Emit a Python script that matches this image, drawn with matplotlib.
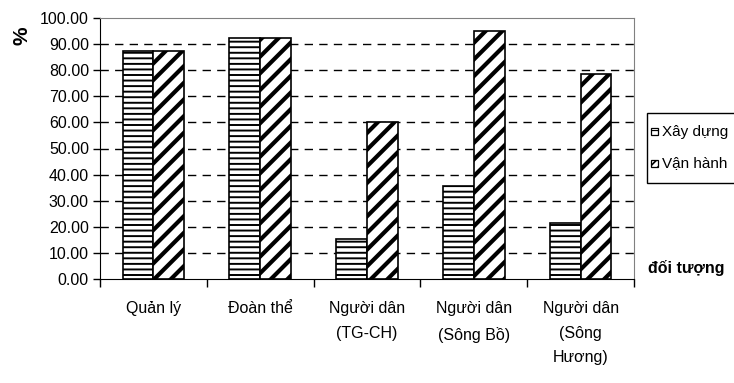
import matplotlib
matplotlib.use("Agg")
import matplotlib.pyplot as plt
import numpy as np
from matplotlib.patches import Rectangle

plt.rcParams["font.family"] = ["Liberation Sans", "DejaVu Sans"]

categories = ["Quản lý", "Đoàn thể", "Người dân\n(TG-CH)", "Người dân\n(Sông Bồ)", "Người dân\n(Sông\nHương)"]
xay_dung = [87.5, 92.5, 15.5, 35.5, 21.5]
van_hanh = [87.5, 92.5, 60.0, 95.0, 78.5]
series_names = ["Xây dựng", "Vận hành"]
yticks = np.arange(0, 101, 10)

W, H = 734, 383
fig = plt.figure(figsize=(W / 100, H / 100), dpi=100)
ax = fig.add_axes([100 / W, 1 - 279 / H, 534 / W, 261 / H])

x = np.arange(len(categories))
w = 0.2875
with plt.rc_context({"hatch.linewidth": 1.4}):
    ax.bar(x - w / 2, xay_dung, w, color="white", edgecolor="black", hatch="---",
           linewidth=1.2, zorder=3)
with plt.rc_context({"hatch.linewidth": 3.0}):
    ax.bar(x + w / 2, van_hanh, w, color="white", edgecolor="black", hatch="//",
           linewidth=1.2, zorder=3)

ax.set_xlim(-0.5, len(categories) - 0.5)
ax.set_ylim(0, 100)
ax.set_yticks(yticks)
ax.set_yticklabels([f"{v:.2f}" for v in yticks])
for v in yticks[1:-1]:
    ax.axhline(v, color="black", lw=1, ls=(0, (6, 4.5)), zorder=1)

ax.set_xticks(x)
ax.set_xticklabels(categories, linespacing=1.8, va="top")
ax.tick_params(axis="x", length=0, pad=16, labelsize=11.5)
ax.set_xticks(np.arange(len(categories) + 1) - 0.5, minor=True)
ax.tick_params(axis="x", which="minor", length=6, width=1, direction="out")
ax.tick_params(axis="y", length=5, width=1, direction="out", pad=3, labelsize=11.5)

for s in ["top", "right"]:
    ax.spines[s].set_color("#808080")
for s in ["left", "bottom"]:
    ax.spines[s].set_color("black")

fig.text(22 / W, 1 - 36 / H, "%", rotation=90, fontsize=15, fontweight="bold", ha="center", va="center")
fig.text(648 / W, 1 - 268 / H, "đối tượng", fontsize=11.5, fontweight="bold", ha="left", va="center")

# legend box, drawn by hand (clipped at the right edge like the original)
fig.patches.append(Rectangle((647 / W, 1 - 183 / H), 100 / W, 70 / H, transform=fig.transFigure,
                             facecolor="white", edgecolor="black", lw=1))
for name, hatch, hlw, yc in zip(series_names, ["---", "////"], [0.8, 1.2], [132, 163]):
    with plt.rc_context({"hatch.linewidth": hlw}):
        fig.patches.append(Rectangle((651 / W, 1 - (yc + 3.5) / H), 7 / W, 7 / H,
                                     transform=fig.transFigure, facecolor="white",
                                     edgecolor="black", lw=0.9, hatch=hatch))
    fig.text(662 / W, 1 - yc / H, name, fontsize=11, ha="left", va="center")

fig.savefig("out.png", dpi=100, facecolor="white")
